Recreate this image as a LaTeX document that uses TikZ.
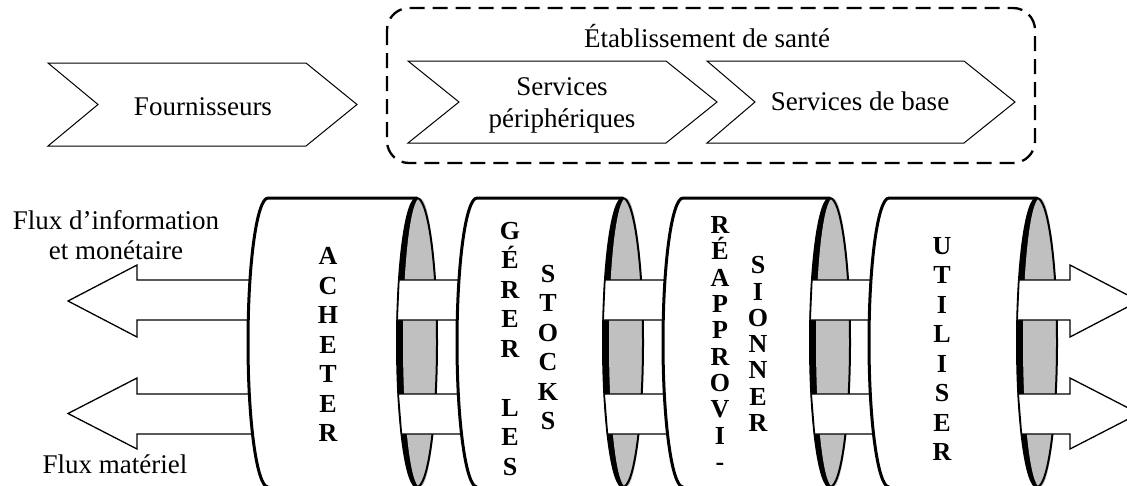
\documentclass[tikz,border=0pt]{standalone}
\usepackage{fontspec}
\setmainfont{Liberation Serif}
\definecolor{cylgray}{RGB}{192,192,192}
\tikzset{
  chev/.style={draw=black, line width=1pt, fill=white, line join=miter},
  lbl/.style={font=\fontsize{27}{31}\selectfont, inner sep=0pt, align=center},
  vert/.style={font=\fontsize{26}{29.5}\selectfont\bfseries, inner sep=0pt, align=center},
  vertnarrow/.style={font=\fontsize{26}{26.3}\selectfont\bfseries, inner sep=0pt, align=center},
  flow/.style={draw=black, line width=1.3pt, fill=white, line join=miter},
  groupbox/.style={draw=black, line width=2.3pt, dash pattern=on 15pt off 8pt, rounded corners=22pt},
}
\newcommand\drawcyl[2]{%
  \fill[white] (#2,198) -- (#1,198) arc[start angle=90,end angle=270,x radius=20pt,y radius=144.5pt] -- (#2,487) -- cycle;
  \draw[line width=3pt] (#2,198) -- (#1,198) arc[start angle=90,end angle=270,x radius=20pt,y radius=144.5pt];
  \fill[black] (#2,342.5) ellipse[x radius=20pt,y radius=144.5pt];
  \fill[cylgray] (#2+3,342.5) ellipse[x radius=17pt,y radius=144.5pt];
  \draw[line width=2pt] (#2,342.5) ellipse[x radius=20pt,y radius=144.5pt];
}
\newcommand\drawbands[2]{%
  \draw[flow] (#1-18.03,280) -- (#2,280) -- (#2,320) -- (#1-19.76,320) -- cycle;
  \draw[flow] (#1-18.69,394) -- (#2,394) -- (#2,434) -- (#1-15.48,434) -- cycle;
}
\begin{document}
\begin{tikzpicture}[x=1pt,y=-1pt]
\useasboundingbox (0,0) rectangle (1127,485);
\clip (0,0) rectangle (1127,485);
\fill[white] (0,0) rectangle (1127,485);

% top row
\draw[groupbox] (387,8) rectangle (1035,163);
\draw[chev] (48,63) -- (306,63) -- (357,104.5) -- (306,146) -- (48,146) -- (98,104.5) -- cycle;
\draw[chev] (408,61) -- (666,61) -- (717,102) -- (666,143) -- (408,143) -- (459,102) -- cycle;
\draw[chev] (707,61) -- (964,61) -- (1015,102) -- (964,143) -- (707,143) -- (755,102) -- cycle;
\node[lbl, anchor=base] (fourn) at (203,115) {Fournisseurs};
\node[lbl, font=\fontsize{27}{32}\selectfont] (periph) at (562,105) {Services\\périphériques};
\node[lbl, anchor=base] (basesvc) at (860,110) {Services de base};
\node[lbl, anchor=base] (etab) at (707,47) {Établissement de santé};

% left arrows
\draw[flow] (137,280) -- (137,265) -- (68,301) -- (137,337) -- (137,320) -- (280,320) -- (280,280) -- cycle;
\draw[flow] (137,394) -- (137,378) -- (68,413.5) -- (137,449) -- (137,434) -- (280,434) -- (280,394) -- cycle;
\node[lbl, font=\fontsize{27}{30}\selectfont] (fluxinfo) at (116,235) {Flux d’information\\et monétaire};
\node[lbl, anchor=base] (fluxmat) at (115,473) {Flux matériel};

% cylinders
\drawcyl{268}{417}
\drawbands{417}{477}
\drawcyl{477}{623}
\drawbands{623}{683}
\drawcyl{683}{830}
\drawbands{830}{889}
\drawcyl{889}{1037}

% right arrows
\draw[flow] (1037-18.03,280) -- (1070,280) -- (1070,265) -- (1139,301) -- (1070,337) -- (1070,320) -- (1037-19.76,320) -- cycle;
\draw[flow] (1037-18.69,394) -- (1070,394) -- (1070,378) -- (1139,413.5) -- (1070,449) -- (1070,434) -- (1037-15.48,434) -- cycle;

% cylinder labels
\node[vert] (acheter) at (328,344.5) {A\\C\\H\\E\\T\\E\\R};
\node[vert] (gerer) at (510,349) {G\\É\\R\\E\\R\\[29.5pt]L\\E\\S};
\node[vert] (stocks) at (548,347.5) {S\\T\\O\\C\\K\\S};
\node[vertnarrow] (reappro) at (720,343.5) {R\\É\\A\\P\\P\\R\\O\\V\\I\\-};
\node[vertnarrow] (sionner) at (758,344) {S\\I\\O\\N\\N\\E\\R};
\node[vert] (utiliser) at (942,349) {U\\T\\I\\L\\I\\S\\E\\R};
\end{tikzpicture}
\end{document}
